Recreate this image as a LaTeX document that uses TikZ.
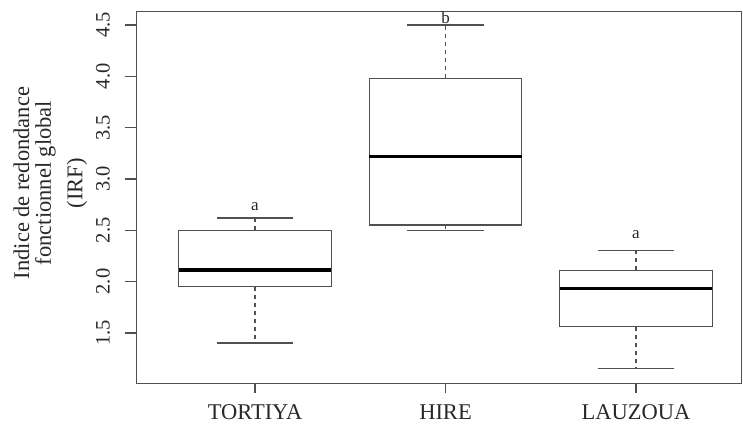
\documentclass[tikz,border=0pt]{standalone}
\usepackage{fontspec}
\setmainfont{Liberation Serif}
\usepackage{tikz}
\usetikzlibrary{positioning}
\definecolor{lineg}{HTML}{505050}
\definecolor{textg}{HTML}{282828}

\begin{document}
\begin{tikzpicture}[x=190.5pt, y=102.6pt,
  frm/.style={draw=lineg, line width=1.4pt},
  bx/.style={draw=lineg, line width=1.3pt},
  med/.style={draw=black, line width=3.6pt},
  whisk/.style={draw=lineg, line width=1.2pt, dash pattern=on 4pt off 4pt},
  ticklab/.style={font=\fontsize{20.5}{22}\selectfont, text=textg, rotate=90, inner sep=0pt},
  catlab/.style={font=\fontsize{22.5}{25}\selectfont, text=textg, inner sep=0pt},
  ylab/.style={font=\fontsize{22.5}{25}\selectfont, text=textg, rotate=90, inner sep=0pt},
  grp/.style={font=\fontsize{17}{19}\selectfont, text=textg, inner sep=0pt}]
  % page = 743 x 428 px, x in groups, y in IRF units
  \useasboundingbox (-0.3386,0.5721) rectangle (3.5617,4.7437);
  \draw[frm] (0.378,1.008) rectangle (3.555,4.634);
  % y axis
  \foreach \v in {1.5,2.0,2.5,3.0,3.5,4.0,4.5}
    \draw[frm] (0.315,\v) -- (0.378,\v) node[ticklab] (t\v) at (0.202,\v) {\v};
  \node[ylab] (ylabA) at (-0.226,2.96) {Indice de redondance};
  \node[ylab] (ylabB) at (-0.100,2.96) {fonctionnel global};
  \node[ylab] (ylabC) at (0.066,2.96) {(IRF)};
  % x axis
  \draw[frm] (1,1.008) -- (1,0.91);
  \draw[frm] (2,1.008) -- (2,0.91);
  \draw[frm] (3,1.008) -- (3,0.91);
  \node[catlab] (tor) at (1,0.728) {TORTIYA};
  \node[catlab] (hir) at (2,0.728) {HIRE};
  \node[catlab] (lau) at (3,0.728) {LAUZOUA};
  % TORTIYA
  \draw[whisk] (1,2.50) -- (1,2.62);
  \draw[whisk] (1,1.95) -- (1,1.40);
  \draw[bx] (0.8,2.62) -- (1.2,2.62);
  \draw[bx] (0.8,1.40) -- (1.2,1.40);
  \draw[bx, fill=white] (0.6,1.95) rectangle (1.4,2.50);
  \draw[med] (0.6,2.11) -- (1.4,2.11);
  \node[grp] (gtor) at (1,2.726) {a};
  % HIRE
  \draw[whisk] (2,3.98) -- (2,4.50);
  \draw[whisk] (2,2.55) -- (2,2.50);
  \draw[bx] (1.8,4.50) -- (2.2,4.50);
  \draw[bx] (1.8,2.50) -- (2.2,2.50);
  \draw[bx, fill=white] (1.6,2.55) rectangle (2.4,3.98);
  \draw[med] (1.6,3.22) -- (2.4,3.22);
  \node[grp] (ghir) at (2,4.568) {b};
  % LAUZOUA
  \draw[whisk] (3,2.11) -- (3,2.30);
  \draw[whisk] (3,1.56) -- (3,1.15);
  \draw[bx] (2.8,2.30) -- (3.2,2.30);
  \draw[bx] (2.8,1.15) -- (3.2,1.15);
  \draw[bx, fill=white] (2.6,1.56) rectangle (3.4,2.11);
  \draw[med] (2.6,1.93) -- (3.4,1.93);
  \node[grp] (glau) at (3,2.453) {a};
\end{tikzpicture}
\end{document}
